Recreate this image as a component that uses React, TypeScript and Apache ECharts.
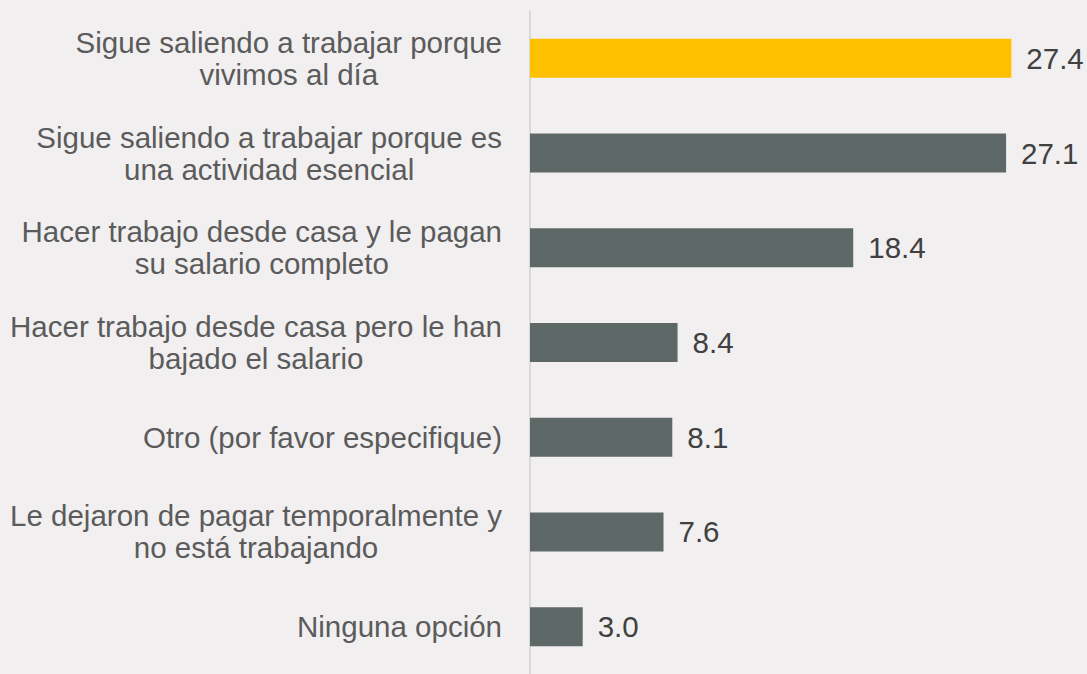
import React, { useEffect, useRef } from "react";
import * as echarts from "echarts";

const categories: string[] = [
  "Sigue saliendo a trabajar porque\nvivimos al día",
  "Sigue saliendo a trabajar porque es\nuna actividad esencial",
  "Hacer trabajo desde casa y le pagan\nsu salario completo",
  "Hacer trabajo desde casa pero le han\nbajado el salario",
  "Otro (por favor especifique)",
  "Le dejaron de pagar temporalmente y\nno está trabajando",
  "Ninguna opción",
];
const values: number[] = [27.4, 27.1, 18.4, 8.4, 8.1, 7.6, 3.0];
const highlighted: boolean[] = [true, false, false, false, false, false, false];

const GOLD = "#FFC000";
const GRAY = "#5E6967";
const BG = "#F1EFF0";
const FONT = "'Liberation Sans', Arial, sans-serif";

export default function App() {
  const ref = useRef<HTMLDivElement>(null);
  useEffect(() => {
    if (!ref.current) return;
    const chart = echarts.init(ref.current, undefined, { renderer: "svg" });
    chart.setOption({
      animation: false,
      backgroundColor: BG,
      grid: { left: 530, right: 30, top: 11, bottom: -6, containLabel: false },
      xAxis: {
        type: "value",
        min: 0,
        max: 30,
        show: false,
      },
      yAxis: {
        type: "category",
        data: categories,
        inverse: true,
        offset: 1,
        axisLine: { show: true, lineStyle: { color: "#D9D9D9", width: 2 } },
        axisTick: { show: false },
        splitLine: { show: false },
        axisLabel: {
          margin: 27,
          align: "right",
          color: "#595959",
          fontFamily: FONT,
          fontSize: 29.5,
          lineHeight: 32,
          formatter: (v: string) =>
            v
              .split("\n")
              .map((l) => `{c|${l}}`)
              .join("\n"),
          rich: {
            c: {
              align: "center",
              color: "#5B5B5B",
              fontFamily: FONT,
              fontSize: 29.5,
              lineHeight: 32,
            },
          },
        },
      },
      series: [
        {
          type: "bar",
          barWidth: 39,
          data: values.map((v, i) => ({
            value: v,
            itemStyle: { color: highlighted[i] ? GOLD : GRAY },
          })),
          label: {
            show: true,
            position: "right",
            distance: 15,
            color: "#404040",
            fontFamily: FONT,
            fontSize: 29.5,
            formatter: (p: any) => Number(p.value).toFixed(1),
          },
        },
      ],
    });
    return () => chart.dispose();
  }, []);
  return (
    <div
      ref={ref}
      style={{
        position: "absolute",
        left: 0,
        top: 0,
        width: 1087,
        height: 674,
        background: BG,
      }}
    />
  );
}
